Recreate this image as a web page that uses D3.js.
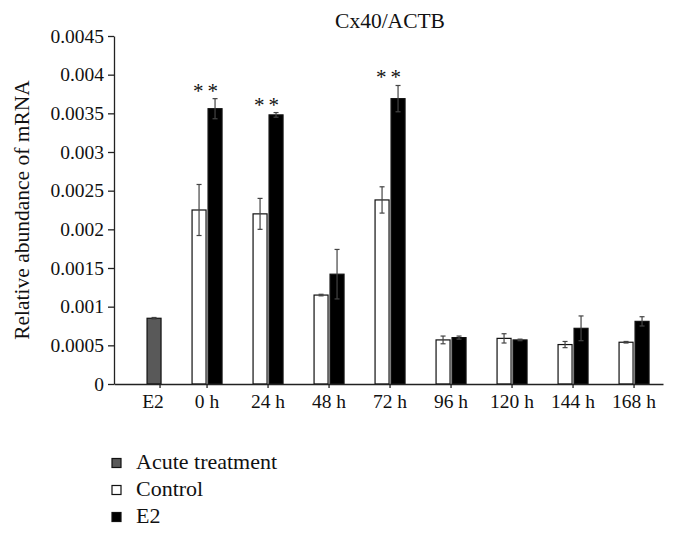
<!DOCTYPE html>
<html>
<head>
<meta charset="utf-8" />
<title>Cx40/ACTB</title>
<script src="https://d3js.org/d3.v7.min.js"></script>
<style type="text/css">
    body { margin: 0; background: #fff; }
    svg text { font-family: "Liberation Serif", "DejaVu Serif", serif; fill: #111; }
    .axis path, .axis line { stroke: #222; stroke-width: 1.3; }
    .err { stroke: #444; stroke-width: 1.2; }
</style>
</head>
<body>
<svg></svg>
<script>
    // data
    var categories = ["E2", "0 h", "24 h", "48 h", "72 h", "96 h", "120 h", "144 h", "168 h"];
    var acute      = [0.00085, null, null, null, null, null, null, null, null];
    var acuteErr   = [0.00001, null, null, null, null, null, null, null, null];
    var control    = [null, 0.00225, 0.00220, 0.00115, 0.00238, 0.00057, 0.00059, 0.00051, 0.00054];
    var controlErr = [null, 0.00033, 0.00020, 0.00001, 0.00017, 0.00005, 0.00006, 0.00004, 0.00001];
    var e2         = [null, 0.00356, 0.00348, 0.00142, 0.00369, 0.00060, 0.00057, 0.00072, 0.00081];
    var e2Err      = [null, 0.00013, 0.00003, 0.00032, 0.00017, 0.00002, 0.00001, 0.00016, 0.00006];
    var stars      = ["", "**", "**", "", "**", "", "", "", ""];
    var yTicks     = [0, 0.0005, 0.001, 0.0015, 0.002, 0.0025, 0.003, 0.0035, 0.004, 0.0045];
    var yTickLabels = ["0", "0.0005", "0.001", "0.0015", "0.002", "0.0025", "0.003", "0.0035", "0.004", "0.0045"];
    var legendNames = ["Acute treatment", "Control", "E2"];
    var colors = { acute: "#595959", control: "#fff", e2: "#000" };

    function drawChart() {
        var width = 678, height = 537;
        var mLeft = 114, mRight = 663, mTop = 36, mBottom = 384;

        var svg = d3.select('svg').attr('width', width).attr('height', height);

        var x = d3.scaleBand().domain(categories).range([mLeft, mRight]).padding(0);
        // two slots per category; the acute bar sits in the E2 slot
        var x1 = d3.scaleBand().domain(["control", "e2"]).range([0, x.bandwidth()])
            .paddingInner(0.125).paddingOuter(0.97).align(0.55);
        var y = d3.scaleLinear().domain([0, 0.0045]).range([mBottom, mTop]);

        var bars = [];
        categories.forEach(function (c, i) {
            if (acute[i] != null) bars.push({ cat: c, slot: "e2", v: acute[i], err: acuteErr[i], fill: colors.acute });
            if (control[i] != null) bars.push({ cat: c, slot: "control", v: control[i], err: controlErr[i], fill: colors.control });
            if (e2[i] != null) bars.push({ cat: c, slot: "e2", v: e2[i], err: e2Err[i], fill: colors.e2 });
        });

        svg.selectAll('.bar')
            .data(bars)
            .enter()
            .append('rect')
            .attr('class', 'bar')
            .attr('x', function (d) { return x(d.cat) + x1(d.slot); })
            .attr('y', function (d) { return y(d.v); })
            .attr('width', x1.bandwidth())
            .attr('height', function (d) { return y(0) - y(d.v); })
            .attr('fill', function (d) { return d.fill; })
            .attr('stroke', '#111')
            .attr('stroke-width', 1.2);

        // error bars
        function cx(d) { return x(d.cat) + x1(d.slot) + x1.bandwidth() / 2; }
        var eb = svg.selectAll('.eb').data(bars).enter().append('g').attr('class', 'err');
        eb.append('line')
            .attr('x1', cx).attr('x2', cx)
            .attr('y1', function (d) { return y(d.v - d.err); })
            .attr('y2', function (d) { return y(d.v + d.err); });
        [1, -1].forEach(function (s) {
            eb.append('line')
                .attr('x1', function (d) { return cx(d) - 2.5; })
                .attr('x2', function (d) { return cx(d) + 2.5; })
                .attr('y1', function (d) { return y(d.v + s * d.err); })
                .attr('y2', function (d) { return y(d.v + s * d.err); });
        });

        // significance marks
        svg.selectAll('.star')
            .data(categories.filter(function (c, i) { return stars[i]; }))
            .enter()
            .append('text')
            .attr('class', 'star')
            .attr('x', function (c) { return x(c) + x1("e2") - 0.5; })
            .attr('y', function (c) { var i = categories.indexOf(c); return y(e2[i] + e2Err[i]) - 1; })
            .attr('text-anchor', 'middle')
            .style('font-size', '21px')
            .style('letter-spacing', '4px')
            .text(function (c) { return stars[categories.indexOf(c)]; });

        // y axis
        svg.append('g')
            .attr('class', 'axis')
            .attr('transform', `translate(${mLeft},0)`)
            .call(d3.axisLeft(y).tickValues(yTicks).tickSize(6).tickSizeOuter(0)
                .tickFormat(function (d, i) { return yTickLabels[i]; }))
            .call(function (g) { g.selectAll('text').style('font-size', '19.5px').attr('x', -10); });

        // x axis, ticks between the two bars of each group
        function tickPos(c) {
            var i = categories.indexOf(c);
            if (acute[i] != null) return x(c) + x1("e2") + x1.bandwidth() - 1;
            return x(c) + x1("e2") - 1;
        }
        var xa = svg.append('g')
            .attr('class', 'axis')
            .attr('transform', `translate(0,${mBottom})`)
            .call(d3.axisBottom(x).tickSize(4).tickSizeOuter(0));
        xa.selectAll('.tick').attr('transform', function (c) { return `translate(${tickPos(c)},0)`; });
        xa.selectAll('.tick text')
            .style('font-size', '19.5px')
            .attr('y', 10)
            .attr('dx', function (c) { return acute[categories.indexOf(c)] != null ? '-7px' : 0; });

        // title
        svg.append('text')
            .attr('x', 390).attr('y', 28)
            .attr('text-anchor', 'middle')
            .style('font-size', '21.5px')
            .text('Cx40/ACTB');

        // y label
        svg.append('text')
            .attr('transform', 'translate(29,210) rotate(-90)')
            .attr('text-anchor', 'middle')
            .style('font-size', '21.5px')
            .text('Relative abundance of mRNA');

        // legend
        var legendFills = [colors.acute, colors.control, colors.e2];
        var lg = svg.selectAll('.lg').data(legendNames).enter().append('g')
            .attr('transform', function (d, i) { return `translate(112,${463 + i * 27})`; });
        lg.append('rect')
            .attr('x', 0).attr('y', -4.5).attr('width', 9).attr('height', 9)
            .attr('fill', function (d, i) { return legendFills[i]; })
            .attr('stroke', '#111').attr('stroke-width', 1.2);
        lg.append('text')
            .attr('x', 24).attr('y', 6)
            .style('font-size', '22px')
            .text(function (d) { return d; });
    }

    drawChart();
</script>
</body>
</html>
